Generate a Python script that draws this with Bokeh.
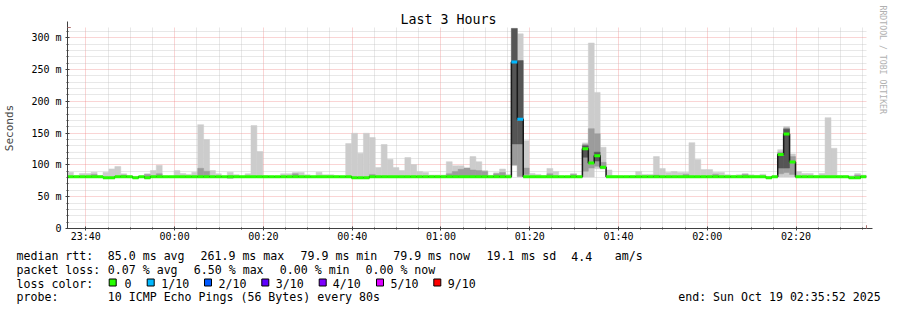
import math
from bokeh.plotting import figure
from bokeh.layouts import column
from bokeh.models import Range1d, FixedTicker, Arrow, NormalHead, Title
from bokeh.core.properties import value
from bokeh.embed import file_html
from bokeh.resources import INLINE

# ---------------- data ----------------
STEP = 80            # seconds per sample
START = -1448        # 23:35:52, seconds relative to 00:00
N = 135

median_ms = [
    81.5, 81.5, 81.5, 81.5, 81.5, 81.5, 79.9, 79.9, 81.5, 81.5, 81.5, 79.9, 81.5, 79.9, 81.5,
    81.5, 81.5, 81.5, 81.5, 81.5, 81.5, 81.5, 81.5, 81.5, 81.5, 81.5, 81.5, 81.5, 81.5, 81.5,
    81.5, 81.5, 81.5, 81.5, 81.5, 81.5, 81.5, 81.5, 81.5, 81.5, 81.5, 81.5, 81.5, 81.5, 81.5,
    81.5, 81.5, 81.5, 79.9, 79.9, 79.9, 81.5, 81.5, 81.5, 81.5, 81.5, 81.5, 81.5, 81.5, 81.5,
    81.5, 81.5, 81.5, 81.5, 81.5, 81.5, 81.5, 81.5, 81.5, 81.5, 81.5, 81.5, 81.5, 81.5, 81.5,
    261.9, 171.7, 81.5, 81.5, 81.5, 81.5, 81.5, 81.5, 81.5, 81.5, 81.5, 81.5, 125.5, 102.8, 114.5,
    96.3, 81.5, 81.5, 81.5, 81.5, 81.5, 81.5, 81.5, 81.5, 81.5, 81.5, 81.5, 81.5, 81.5, 81.5,
    81.5, 81.5, 81.5, 81.5, 81.5, 81.5, 81.5, 81.5, 81.5, 81.5, 81.5, 81.5, 81.5, 79.9, 81.5,
    116.4, 148.7, 104.6, 81.5, 81.5, 81.5, 81.5, 81.5, 81.5, 81.5, 81.5, 81.5, 79.9, 79.9, 81.5,
]

loss = [
    0, 0, 0, 0, 0, 0, 0, 0, 0, 0, 0, 0, 0, 0, 0,
    0, 0, 0, 0, 0, 0, 0, 0, 0, 0, 0, 0, 0, 0, 0,
    0, 0, 0, 0, 0, 0, 0, 0, 0, 0, 0, 0, 0, 0, 0,
    0, 0, 0, 0, 0, 0, 0, 0, 0, 0, 0, 0, 0, 0, 0,
    0, 0, 0, 0, 0, 0, 0, 0, 0, 0, 0, 0, 0, 0, 0,
    1, 1, 0, 0, 0, 0, 0, 0, 0, 0, 0, 0, 0, 0, 0,
    0, 0, 0, 0, 0, 0, 0, 0, 0, 0, 0, 0, 0, 0, 0,
    0, 0, 0, 0, 0, 0, 0, 0, 0, 0, 0, 0, 0, 0, 0,
    0, 0, 0, 0, 0, 0, 0, 0, 0, 0, 0, 0, 0, 0, 0,
]

smoke_lo = [
    81, 81, 81, 81, 81, 81, 79.4, 79.4, 81, 81, 81, 79.4, 81, 79.4, 81,
    81, 81, 81, 81, 81, 81, 81, 81, 81, 81, 81, 81, 81, 81, 81,
    81, 81, 81, 81, 81, 81, 81, 81, 81, 81, 81, 81, 81, 81, 81,
    81, 81, 81, 79.4, 79.4, 79.4, 81, 81, 81, 81, 81, 81, 81, 81, 81,
    81, 81, 81, 81, 81, 81, 81, 81, 81, 81, 81, 81, 81, 81, 81,
    99, 81, 81, 81, 81, 81, 81, 81, 81, 81, 81, 81, 81, 81, 94,
    94, 81, 81, 81, 81, 81, 81, 81, 81, 81, 81, 81, 81, 81, 81,
    81, 81, 81, 81, 81, 81, 81, 81, 81, 81, 81, 81, 81, 79.4, 81,
    81, 81, 81, 81, 81, 81, 81, 81, 81, 81, 81, 81, 79.4, 79.4, 81,
]

smoke_hi = [
    88.5, 83, 86.3, 86.3, 88.5, 83, 88.5, 93.7, 97.4, 86, 83, 82, 82, 86, 91,
    99.5, 82, 82, 91, 86.3, 85, 88.5, 163.3, 139.8, 91, 86, 82, 88.5, 84.6, 82,
    86, 161.8, 121, 83, 82, 82, 86, 86, 88, 88, 84.5, 82, 88.5, 84.5, 84.5,
    83, 82, 133.5, 149.7, 118.3, 149.7, 143, 95.8, 132, 108.9, 95.8, 91, 111.5, 100.5, 89.7,
    88, 84, 84, 84, 105, 98.6, 98.6, 95, 113, 105, 91, 83.5, 87.5, 93.5, 85,
    314.6, 306, 138, 86.6, 85, 83, 94.4, 89.7, 82, 82, 86.6, 83, 134.6, 291.6, 214,
    127.7, 92, 83, 82.5, 82.5, 83, 89.7, 85, 85, 113, 94.4, 88, 89.5, 88, 88,
    135, 108.4, 92.6, 92.6, 88, 88, 84.5, 83.5, 84.5, 86.3, 84.5, 83.5, 85.3, 82, 82,
    124, 160.2, 117.3, 89.5, 86.3, 86.3, 83, 86.3, 174.3, 126.1, 83, 83, 83, 86.3, 84,
]

# inner (darker) smoke band: sample index, low, high (ms)
inner_idx = [4, 9, 13, 15, 22, 23, 27, 38, 51, 64, 65, 66, 67, 68, 69, 70, 72, 73,
             75, 76, 77, 81, 85, 87, 88, 89, 90, 99, 104, 109, 114, 120, 121, 122, 133]
inner_lo = [81, 81, 80, 81, 81, 81, 79, 81, 81, 81, 81, 81, 81, 81, 81, 81, 81, 81,
            100, 82, 85, 81, 81, 90, 95, 98, 94, 81, 81, 81, 81, 86, 88, 85, 79]
inner_hi = [85, 84, 85, 86, 94.6, 90, 83, 86, 85, 86, 89.5, 93, 95, 92, 91, 89.5, 86, 88,
            135, 135, 95, 86, 85, 132, 157, 149, 104, 84, 85, 85, 85, 120, 158, 113, 84]

# core (darkest) smoke band
core_idx = [75, 76, 87, 89, 120, 121]
core_lo = [133, 133, 112, 106, 95, 95]
core_hi = [314.6, 264, 130, 120, 114, 156]

loss_labels = ["0", "1/10", "2/10", "3/10", "4/10", "5/10", "9/10"]
loss_colors = ["#26ff00", "#00b8ff", "#0059ff", "#5e00ff", "#7e00ff", "#dd00ff", "#ff0000"]

y_tick_values = [0, 50, 100, 150, 200, 250, 300]
y_tick_labels = ["0", "50 m", "100 m", "150 m", "200 m", "250 m", "300 m"]
x_tick_labels = ["23:40", "00:00", "00:20", "00:40", "01:00", "01:20", "01:40", "02:00", "02:20"]

stats_rows = [
    [("median rtt:", 16), ("85.0 ms avg", 107.3), ("261.9 ms max", 200), ("79.9 ms min", 300),
     ("79.9 ms now", 392.7), ("19.1 ms sd", 486), ("4.4", 570.7), ("am/s", 614.3)],
    [("packet loss:", 16), ("0.07 % avg", 107.3), ("6.50 % max", 193.3), ("0.00 % min", 279.3),
     ("0.00 % now", 365)],
    [("loss color:", 16)],
    [("probe:", 16), ("10 ICMP Echo Pings (56 Bytes) every 80s", 107.3),
     ("end: Sun Oct 19 02:35:52 2025", 677.7)],
]
row_baseline = [255.8, 269.4, 283.0, 296.6]
legend_box_x = [108.7, 146.7, 204, 261.3, 318.7, 376, 433.3]
legend_text_x = [124, 160.7, 218, 275.3, 332.3, 390, 447.3]

FONT = "DejaVu Sans Mono"

# ---------------- geometry ----------------
W = 897
H_TOP, H_BOT = 248, 62
FL, FR, FT, FB = 67, 867, 27, 228          # frame edges in page pixels
YMAX = 316
END = START + N * STEP
SX = (END - START) / (FR - FL)             # seconds per pixel
SY = YMAX / (FB - FT)                      # ms per pixel


def hm_to_sec(s):
    h, m = int(s[:2]), int(s[3:])
    sec = h * 3600 + m * 60
    if h >= 12:
        sec -= 86400
    return sec


left = [START + i * STEP for i in range(N)]
right = [l + STEP for l in left]

x_ticks = [hm_to_sec(t) for t in x_tick_labels]
x_minor = [t for t in range(-1200, END, 300) if t not in x_ticks]
y_minor = [v for v in range(10, 320, 10) if v % 50 != 0]

# ---------------- main plot ----------------
p = figure(width=W, height=H_TOP, x_range=Range1d(START, END), y_range=Range1d(0, YMAX),
           output_backend="svg", toolbar_location=None,
           min_border_left=FL, min_border_right=W - FR, min_border_top=FT,
           min_border_bottom=H_TOP - FB)
p.outline_line_color = None
p.background_fill_color = "white"
p.border_fill_color = "white"

p.title.text = "Last 3 Hours"
p.title.align = "left"
p.title.offset = 400 - FL
p.title.standoff = 2
p.title.text_font = FONT
p.title.text_font_size = "13.3px"
p.title.text_font_style = "normal"
p.title.text_color = "#000000"

p.quad(left=left, right=right, bottom=smoke_lo, top=smoke_hi,
       fill_color="#cccccc", line_color="#cccccc", line_width=0.5)
p.quad(left=[left[i] for i in inner_idx], right=[right[i] for i in inner_idx],
       bottom=inner_lo, top=inner_hi, fill_color="#9c9c9c", line_color="#9c9c9c", line_width=0.5)
p.quad(left=[left[i] for i in core_idx], right=[right[i] for i in core_idx],
       bottom=core_lo, top=core_hi, fill_color="#555555", line_color="#555555", line_width=0.5)

p.step(x=left + [END], y=median_ms + [median_ms[-1]], mode="after",
       line_color="#1a1a1a", line_width=1.5)
p.segment(x0=left, x1=right, y0=median_ms, y1=median_ms,
          line_color=[loss_colors[l] for l in loss], line_width=3)

xt = FixedTicker(ticks=x_ticks, minor_ticks=x_minor)
yt = FixedTicker(ticks=y_tick_values, minor_ticks=y_minor)
p.xaxis.ticker = xt
p.yaxis.ticker = yt
p.xgrid.ticker = xt
p.ygrid.ticker = yt
p.xaxis.major_label_overrides = {t: lab for t, lab in zip(x_ticks, x_tick_labels)}
p.yaxis.major_label_overrides = {v: lab for v, lab in zip(y_tick_values, y_tick_labels)}

for ax in (p.xaxis, p.yaxis):
    ax.axis_line_color = "#404040"
    ax.major_tick_line_color = "#404040"
    ax.minor_tick_line_color = "#404040"
    ax.major_tick_in = 2
    ax.major_tick_out = 2
    ax.minor_tick_in = 1
    ax.minor_tick_out = 1
    ax.major_label_text_font = FONT
    ax.major_label_text_font_size = "10px"
    ax.major_label_text_color = "#000000"
p.xaxis.major_label_standoff = 0
p.yaxis.major_label_standoff = 4
p.yaxis.axis_label = "Seconds"
p.yaxis.axis_label_text_font = FONT
p.yaxis.axis_label_text_font_size = "11px"
p.yaxis.axis_label_text_font_style = "normal"
p.yaxis.axis_label_standoff = 12

for g in (p.xgrid, p.ygrid):
    g.grid_line_color = "#f08888"
    g.grid_line_alpha = 0.7
    g.grid_line_dash = "1 1"
    g.minor_grid_line_color = "#bdbdbd"
    g.minor_grid_line_alpha = 0.7
    g.minor_grid_line_dash = "1 1"

# axis arrows
p.add_layout(Arrow(end=NormalHead(size=6, fill_color="#7f1f1f", line_color="#7f1f1f"),
                   x_start=START, y_start=YMAX, x_end=START, y_end=YMAX + 6 * SY,
                   line_color="#404040", line_width=1))
p.add_layout(Arrow(end=NormalHead(size=6, fill_color="#7f1f1f", line_color="#7f1f1f"),
                   x_start=END, y_start=0, x_end=END + 6 * SX, y_end=0,
                   line_color="#404040", line_width=1))

# vertical credit on the right
credit = Title(text="RRDTOOL / TOBI OETIKER", align="left", offset=-22,
               vertical_align="top", text_font=FONT, text_font_size="8.2px",
               text_font_style="normal", text_color="#b0b0b0", standoff=19)
p.add_layout(credit, "right")

# ---------------- legend area ----------------
p2 = figure(width=W, height=H_BOT, x_range=Range1d(0, W), y_range=Range1d(H_TOP + H_BOT, H_TOP),
            output_backend="svg", toolbar_location=None, min_border=0,
            x_axis_location=None, y_axis_location=None)
p2.outline_line_color = None
p2.grid.visible = False
p2.background_fill_color = "white"
p2.border_fill_color = "white"
for fig in (p, p2):
    try:
        fig.frame_align = False
    except Exception:
        pass

tx, ty, tt = [], [], []
for row, yy in zip(stats_rows, row_baseline):
    for txt, xx in row:
        tx.append(xx)
        ty.append(yy)
        tt.append(txt)
for lab, xx in zip(loss_labels, legend_text_x):
    tx.append(xx)
    ty.append(row_baseline[2])
    tt.append(lab)
p2.text(x=tx, y=ty, text=tt, text_font=value(FONT), text_font_size=value("11.6px"),
        text_baseline="alphabetic", text_align="left", text_color="#000000")
p2.quad(left=legend_box_x, right=[b + 7 for b in legend_box_x],
        top=[row_baseline[2] - 4.5] * len(legend_box_x),
        bottom=[row_baseline[2] + 2.5] * len(legend_box_x),
        fill_color=loss_colors, line_color="#000000", line_width=1)

layout = column(p, p2, spacing=0)
open("out.html", "w").write(file_html(layout, INLINE))
